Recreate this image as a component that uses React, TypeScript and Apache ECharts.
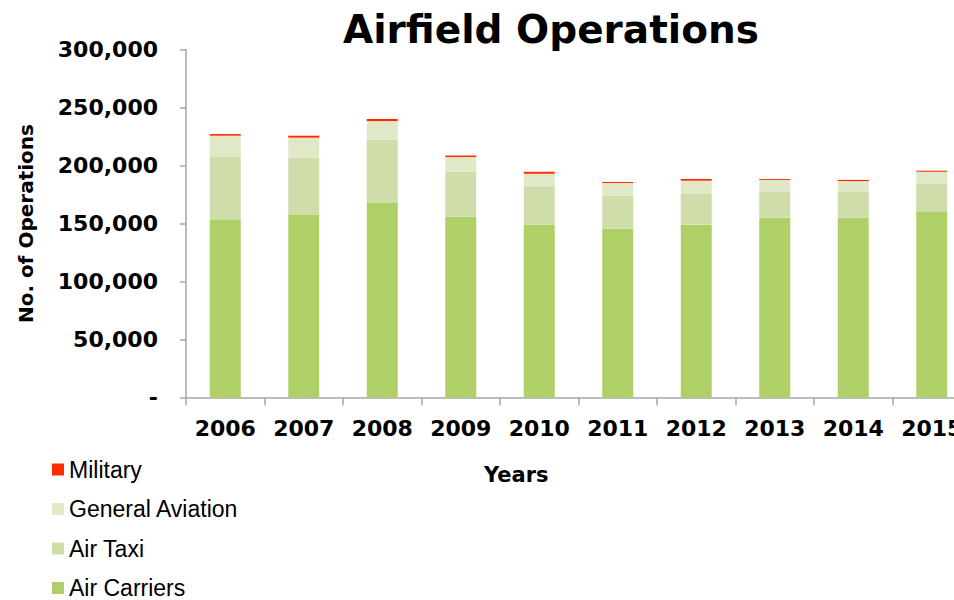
import React, { useEffect, useRef } from "react";
import * as echarts from "echarts";

const years = ["2006", "2007", "2008", "2009", "2010", "2011", "2012", "2013", "2014", "2015"];
const airCarriers = [153600, 157300, 167700, 155900, 149000, 145500, 149000, 155000, 155000, 160500];
const airTaxi = [53700, 49400, 54500, 38700, 33100, 28500, 26700, 22800, 22800, 23800];
const generalAviation = [18400, 17300, 16100, 12700, 10800, 10900, 11200, 9700, 8800, 10300];
const military = [1400, 1700, 1800, 1300, 1700, 900, 1500, 800, 1000, 900];
const legendOrder = ["Military", "General Aviation", "Air Taxi", "Air Carriers"];

const BOLD = "DejaVu Sans";

export default function App() {
  const ref = useRef<HTMLDivElement>(null);
  useEffect(() => {
    if (!ref.current) return;
    const chart = echarts.init(ref.current, undefined, { renderer: "svg" });
    const mk = (name: string, data: number[], color: string) => ({
      name,
      type: "bar",
      stack: "ops",
      data,
      barWidth: 31,
      itemStyle: { color },
    });
    chart.setOption({
      animation: false,
      backgroundColor: "#ffffff",
      title: {
        text: "Airfield Operations",
        left: 546,
        top: 5,
        textAlign: "center",
        textStyle: { fontFamily: BOLD, fontWeight: "bold", fontSize: 39, color: "#000" },
      },
      legend: {
        orient: "vertical",
        left: 52,
        top: 458,
        padding: 0,
        data: legendOrder,
        icon: "rect",
        itemWidth: 12,
        itemHeight: 12,
        itemGap: 16.5,
        textStyle: { fontFamily: "Liberation Sans", fontSize: 23, color: "#000" },
      },
      grid: { left: 186, top: 49.5, width: 785, height: 348, containLabel: false },
      xAxis: {
        type: "category",
        data: years,
        axisLine: { lineStyle: { color: "#a6a6a6", width: 1.5 } },
        axisTick: { show: true, length: 8, lineStyle: { color: "#a6a6a6", width: 1.5 } },
        axisLabel: { interval: 0, margin: 20, fontFamily: BOLD, fontWeight: "bold", fontSize: 22, color: "#000" },
      },
      yAxis: {
        type: "value",
        min: 0,
        max: 300000,
        interval: 50000,
        name: "No. of Operations",
        nameLocation: "middle",
        nameRotate: 90,
        nameGap: 150,
        nameTextStyle: { fontFamily: BOLD, fontWeight: "bold", fontSize: 20, color: "#000" },
        axisLine: { show: true, lineStyle: { color: "#a6a6a6", width: 1.5 } },
        axisTick: { show: true, length: 6, lineStyle: { color: "#a6a6a6", width: 1.5 } },
        splitLine: { show: false },
        axisLabel: {
          margin: 28,
          fontFamily: BOLD,
          fontWeight: "bold",
          fontSize: 22,
          color: "#000",
          formatter: (v: number) => (v === 0 ? "-" : v.toLocaleString("en-US")),
        },
      },
      graphic: [
        {
          type: "text",
          left: 484,
          top: 464,
          style: { text: "Years", fontFamily: BOLD, fontWeight: "bold", fontSize: 21, fill: "#000" },
        },
      ],
      series: [
        mk("Air Carriers", airCarriers, "#afd066"),
        mk("Air Taxi", airTaxi, "#cfddab"),
        mk("General Aviation", generalAviation, "#e0e8c8"),
        mk("Military", military, "#ff2a00"),
      ],
    });
    return () => chart.dispose();
  }, []);
  return (
    <div style={{ position: "fixed", left: 0, top: 0, width: 954, height: 600, overflow: "hidden" }}>
      <div ref={ref} style={{ position: "absolute", left: 0, top: 0, width: 990, height: 600 }} />
    </div>
  );
}
